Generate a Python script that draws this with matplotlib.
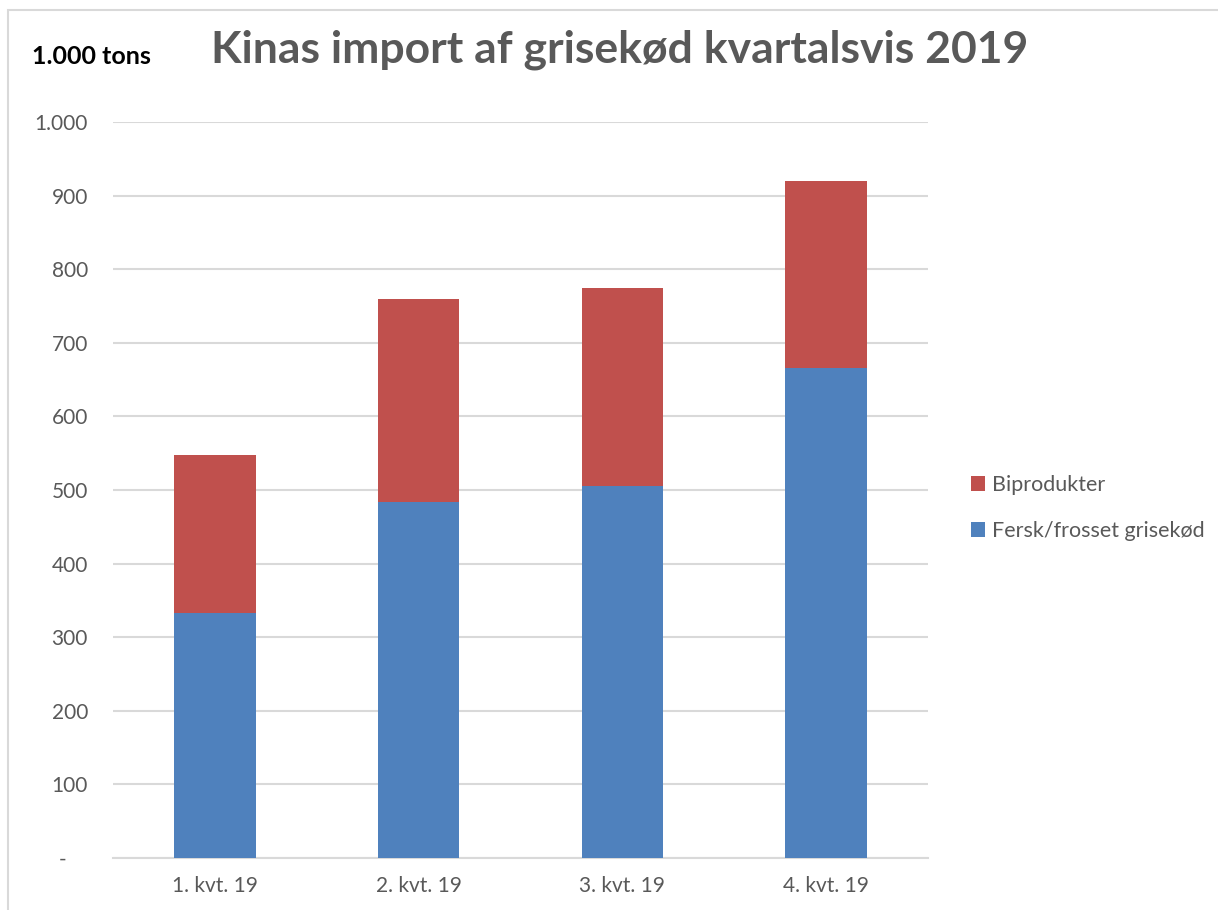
import matplotlib.pyplot as plt
import numpy as np
from matplotlib.patches import Rectangle

quarters = ["1. kvt. 19", "2. kvt. 19", "3. kvt. 19", "4. kvt. 19"]
fersk = [333, 484, 506, 666]
biprodukter = [215, 276, 268, 254]
yticks = [0, 100, 200, 300, 400, 500, 600, 700, 800, 900, 1000]
ytick_labels = ["-    ", "100", "200", "300", "400", "500", "600", "700", "800", "900", "1.000"]

BLUE = "#4F81BD"
RED = "#C0504D"
GRAY_TEXT = "#595959"
GRID = "#D9D9D9"

plt.rcParams["font.family"] = ["Lato", "DejaVu Sans"]

fig = plt.figure(figsize=(12.18, 9.10), dpi=100)
ax = fig.add_axes([113 / 1218, 1 - 858 / 910, (928 - 113) / 1218, 736 / 910])

x = np.arange(len(quarters))
ax.bar(x, fersk, width=0.40, color=BLUE, label="Fersk/frosset grisekød", zorder=3)
ax.bar(x, biprodukter, width=0.40, bottom=fersk, color=RED, label="Biprodukter", zorder=3)

ax.set_xlim(-0.5, len(quarters) - 0.5)
ax.set_ylim(0, 1000)
ax.set_yticks(yticks)
ax.set_yticklabels(ytick_labels)
ax.set_xticks(x)
ax.set_xticklabels(quarters)
ax.tick_params(axis="both", length=0, labelsize=15, labelcolor=GRAY_TEXT)
ax.tick_params(axis="y", pad=18)
ax.tick_params(axis="x", pad=13)

ax.grid(axis="y", color=GRID, linewidth=1.5, zorder=0)
for side in ["top", "right", "left"]:
    ax.spines[side].set_visible(False)
ax.spines["bottom"].set_color(GRID)
ax.spines["bottom"].set_linewidth(1.5)

handles, labels = ax.get_legend_handles_labels()
fig.legend(handles[::-1], labels[::-1], loc="center left",
           bbox_to_anchor=(952 / 1218, 1 - 508 / 910), frameon=False,
           fontsize=15.5, labelcolor=GRAY_TEXT, handlelength=0.65, handleheight=0.65,
           handletextpad=0.3, labelspacing=1.2)

fig.text(620 / 1218, 1 - 50 / 910, "Kinas import af grisekød kvartalsvis 2019",
         ha="center", va="center", fontsize=32, fontweight="bold", color=GRAY_TEXT)
fig.text(32 / 1218, 1 - 56 / 910, "1.000 tons", ha="left", va="center",
         fontsize=18, fontweight="bold", color="black")

fig.patches.append(Rectangle((8 / 1218, -0.1), 1.2, 1.1 - 10 / 910,
                             transform=fig.transFigure, fill=False,
                             edgecolor=GRID, linewidth=1.5))

fig.savefig("out.png", dpi=100)
